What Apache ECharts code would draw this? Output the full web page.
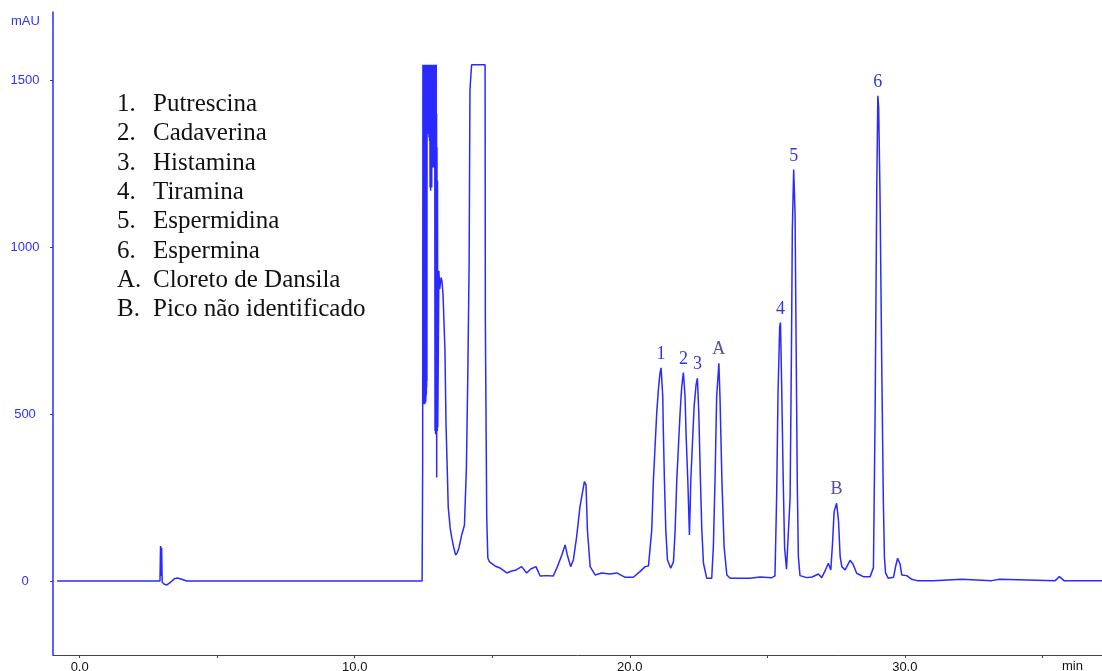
<!DOCTYPE html>
<html>
<head>
<meta charset="utf-8">
<title>Cromatograma</title>
<script src="https://cdn.jsdelivr.net/npm/echarts@6.0.0/dist/echarts.min.js"></script>
<style>
  html, body { margin: 0; padding: 0; background: #fff; }
  #chart { width: 1102px; height: 671px; }
</style>
</head>
<body>
<div id="chart"></div>
<script>
// tempo de retenção (min)
const tempos = [
  -0.82, 2.92, 2.94, 2.96, 2.98, 3.00, 3.08, 3.17, 3.30, 3.45, 3.55, 3.71, 3.89,
  12.45, 12.47, 12.48,
  12.495, 12.50, 12.505, 12.51, 12.515, 12.52, 12.525, 12.53, 12.535, 12.54, 12.545, 12.55,
  12.555, 12.56, 12.565, 12.57, 12.575, 12.58, 12.585, 12.59, 12.595, 12.60, 12.605, 12.61,
  12.615, 12.62, 12.625, 12.63,
  12.64, 12.65, 12.66, 12.67, 12.68, 12.69, 12.70, 12.71, 12.72, 12.73, 12.74, 12.75, 12.76, 12.77,
  12.78, 12.79, 12.80, 12.81, 12.82, 12.83, 12.84, 12.85, 12.86, 12.87, 12.88, 12.89, 12.90, 12.91,
  12.92, 12.925, 12.93, 12.935, 12.94, 12.945, 12.95, 12.955, 12.96, 12.965, 12.97, 12.975,
  12.98, 12.99, 13.00, 13.01, 13.02, 13.04, 13.06,
  13.09, 13.11, 13.14, 13.17, 13.21, 13.28, 13.32, 13.37, 13.40, 13.47, 13.53, 13.60, 13.67, 13.73,
  13.79, 13.89, 13.99, 14.06, 14.11, 14.16, 14.19, 14.25, 14.74, 14.75, 14.80, 14.84, 14.90,
  15.10, 15.28, 15.53, 15.71, 15.87, 16.07, 16.25, 16.40, 16.59, 16.74, 16.98, 17.22, 17.37,
  17.53, 17.65, 17.73, 17.85, 17.95, 18.07, 18.19, 18.35, 18.41, 18.46, 18.56, 18.74, 18.98,
  19.28, 19.53, 19.83, 20.13, 20.37, 20.56, 20.68, 20.80, 20.86, 20.92, 20.98, 21.04, 21.10,
  21.14, 21.20, 21.22, 21.26, 21.31, 21.37, 21.49, 21.59, 21.65, 21.71, 21.77, 21.83, 21.89,
  21.95, 22.01, 22.05, 22.11, 22.17, 22.22, 22.29, 22.34, 22.41, 22.46, 22.51, 22.56, 22.62,
  22.68, 22.80, 22.98, 23.04, 23.10, 23.16, 23.24, 23.28, 23.35, 23.43, 23.53, 23.65, 24.37,
  24.74, 25.17, 25.28, 25.34, 25.39, 25.45, 25.48, 25.52, 25.58, 25.63, 25.70, 25.77, 25.83,
  25.88, 25.91, 25.96, 26.01, 26.05, 26.09, 26.13, 26.19, 26.44, 26.63, 26.86, 26.98, 27.10,
  27.22, 27.31, 27.37, 27.43, 27.52, 27.59, 27.65, 27.71, 27.83, 28.01, 28.12, 28.25, 28.49,
  28.74, 28.86, 28.92, 28.98, 29.02, 29.05, 29.10, 29.16, 29.22, 29.26, 29.30, 29.40, 29.59,
  29.67, 29.74, 29.83, 29.89, 30.07, 30.25, 30.44, 31.04, 31.10, 32.07, 32.13, 33.16, 33.22,
  33.44, 33.50, 35.47, 35.62, 35.79, 37.17
];
// absorbância (mAU)
const absorbancia = [
  0, 0, 105, 15, 100, -4, -10, -12, -4, 7, 9, 5, 0,
  0, 340, 1548,
  540, 1548, 560, 1548, 530, 1548, 550, 1548, 540, 1548, 530, 1548,
  545, 1548, 560, 1548, 535, 1548, 540, 1548, 555, 1548, 560, 1548,
  580, 1548, 600, 1548,
  1500, 1548, 1490, 1548, 1340, 1548, 1330, 1548, 1320, 1548, 1180, 1548, 1170, 1548,
  1200, 1548, 1180, 1548, 1250, 1548, 1240, 1548, 1250, 1548, 1240, 1548, 1250, 1548,
  450, 1548, 460, 1548, 440, 1548, 450, 1548, 460, 1548, 455, 1400,
  310, 1300, 450, 1200, 460, 700, 930,
  875, 880, 910, 900, 860, 693, 468, 318, 222, 159, 129, 100, 78, 85,
  99, 138, 168, 339, 609, 954, 1473, 1548, 1548, 774, 189, 69, 57,
  45, 39, 24, 30, 33, 43, 24, 36, 43, 15, 16, 15, 43,
  78, 108, 78, 43, 63, 133, 223, 298, 288, 153, 43, 18, 24,
  21, 24, 11, 11, 28, 43, 45, 153, 303, 403, 504, 573, 624,
  639, 553, 453, 303, 153, 63, 38, 58, 153, 303, 403, 504, 583,
  625, 553, 433, 303, 138, 303, 433, 523, 588, 608, 504, 333, 153,
  53, 8, 8, 103, 303, 553, 653, 553, 303, 103, 18, 8, 8,
  12, 10, 15, 250, 560, 760, 775, 600, 300, 100, 35, 40, 250,
  700, 1050, 1234, 1100, 700, 300, 73, 16, 10, 12, 21, 10, 30,
  53, 33, 110, 208, 233, 180, 73, 43, 33, 62, 50, 23, 13,
  13, 40, 497, 1169, 1455, 1420, 1149, 663, 240, 70, 24, 8, 11,
  45, 68, 50, 18, 16, 5, 1, 1, 5, 5, 1, 1, 5,
  5, 1, 1, 13, 1, 1
];

// picos identificados
const picoRotulos = ['1', '2', '3', 'A', '4', '5', '6', 'B'];
const picoTempos = [21.14, 21.95, 22.46, 23.24, 25.48, 25.96, 29.02, 27.52];

const legendaNum = ['1.', '2.', '3.', '4.', '5.', '6.', 'A.', 'B.'];
const legendaNome = ['Putrescina', 'Cadaverina', 'Histamina', 'Tiramina', 'Espermidina',
  'Espermina', 'Cloreto de Dansila', 'Pico não identificado'];

const xTicks = [0, 5, 10, 15, 20, 25, 30, 35];
const xLabels = [0, 10, 20, 30];
const yTicks = [0, 500, 1000, 1500];

const azul = '#2a2aff';

let myChart = echarts.init(document.getElementById('chart'));

let serie = tempos.map((t, i) => [t, absorbancia[i]]);

let marcas = picoRotulos.map((r, i) => {
  let idx = tempos.indexOf(picoTempos[i]);
  let letra = /[A-Z]/.test(r);
  return {
    name: r,
    coord: [picoTempos[i], absorbancia[idx]],
    label: { color: letra ? '#50509c' : '#3535e6' }
  };
});

let graficos = [];
legendaNum.forEach((n, i) => {
  graficos.push({
    type: 'text', left: 117, top: 92 + i * 29.3,
    style: { text: n, font: '25px "Liberation Serif", serif', fill: '#111' }
  });
  graficos.push({
    type: 'text', left: 153, top: 92 + i * 29.3,
    style: { text: legendaNome[i], font: '25px "Liberation Serif", serif', fill: '#111' }
  });
});
graficos.push({
  type: 'text', left: 11, top: 15,
  style: { text: 'mAU', font: '13px "Liberation Sans", Arial, sans-serif', fill: '#3030ff' }
});
graficos.push({
  type: 'text', left: 1062, top: 660,
  style: { text: 'min', font: '13px "Liberation Sans", Arial, sans-serif', fill: '#111' }
});

let option = {
  animation: false,
  grid: { left: 53, right: 0, top: 12, bottom: 16, containLabel: false, outerBoundsMode: 'none' },
  xAxis: {
    type: 'value',
    min: -0.97,
    max: 37.17,
    axisLine: { onZero: false, lineStyle: { color: '#444', width: 1 } },
    axisTick: { show: true, length: 3, customValues: xTicks, lineStyle: { color: '#444' } },
    axisLabel: {
      customValues: xLabels,
      formatter: v => v.toFixed(1),
      color: '#111',
      fontSize: 13,
      fontFamily: '"Liberation Sans", Arial, sans-serif',
      margin: 6
    },
    splitLine: { show: false }
  },
  yAxis: {
    type: 'value',
    min: -222,
    max: 1706,
    axisLine: { show: true, onZero: false, lineStyle: { color: azul, width: 1.5 } },
    axisTick: { show: true, length: 3, customValues: yTicks, lineStyle: { color: azul } },
    axisLabel: {
      customValues: yTicks,
      formatter: v => String(v),
      color: '#3030ff',
      fontSize: 13,
      fontFamily: '"Liberation Sans", Arial, sans-serif',
      align: 'center',
      margin: 28
    },
    splitLine: { show: false }
  },
  graphic: graficos,
  series: [
    {
      type: 'line',
      data: serie,
      showSymbol: false,
      silent: true,
      lineStyle: { color: azul, width: 1.5 },
      markPoint: {
        symbol: 'circle',
        symbolSize: 1,
        itemStyle: { color: 'rgba(0,0,0,0)' },
        label: {
          show: true,
          position: 'top',
          distance: 4,
          formatter: '{b}',
          fontSize: 18,
          fontFamily: '"Liberation Serif", serif'
        },
        data: marcas
      }
    }
  ]
};

option && myChart.setOption(option);
</script>
</body>
</html>
